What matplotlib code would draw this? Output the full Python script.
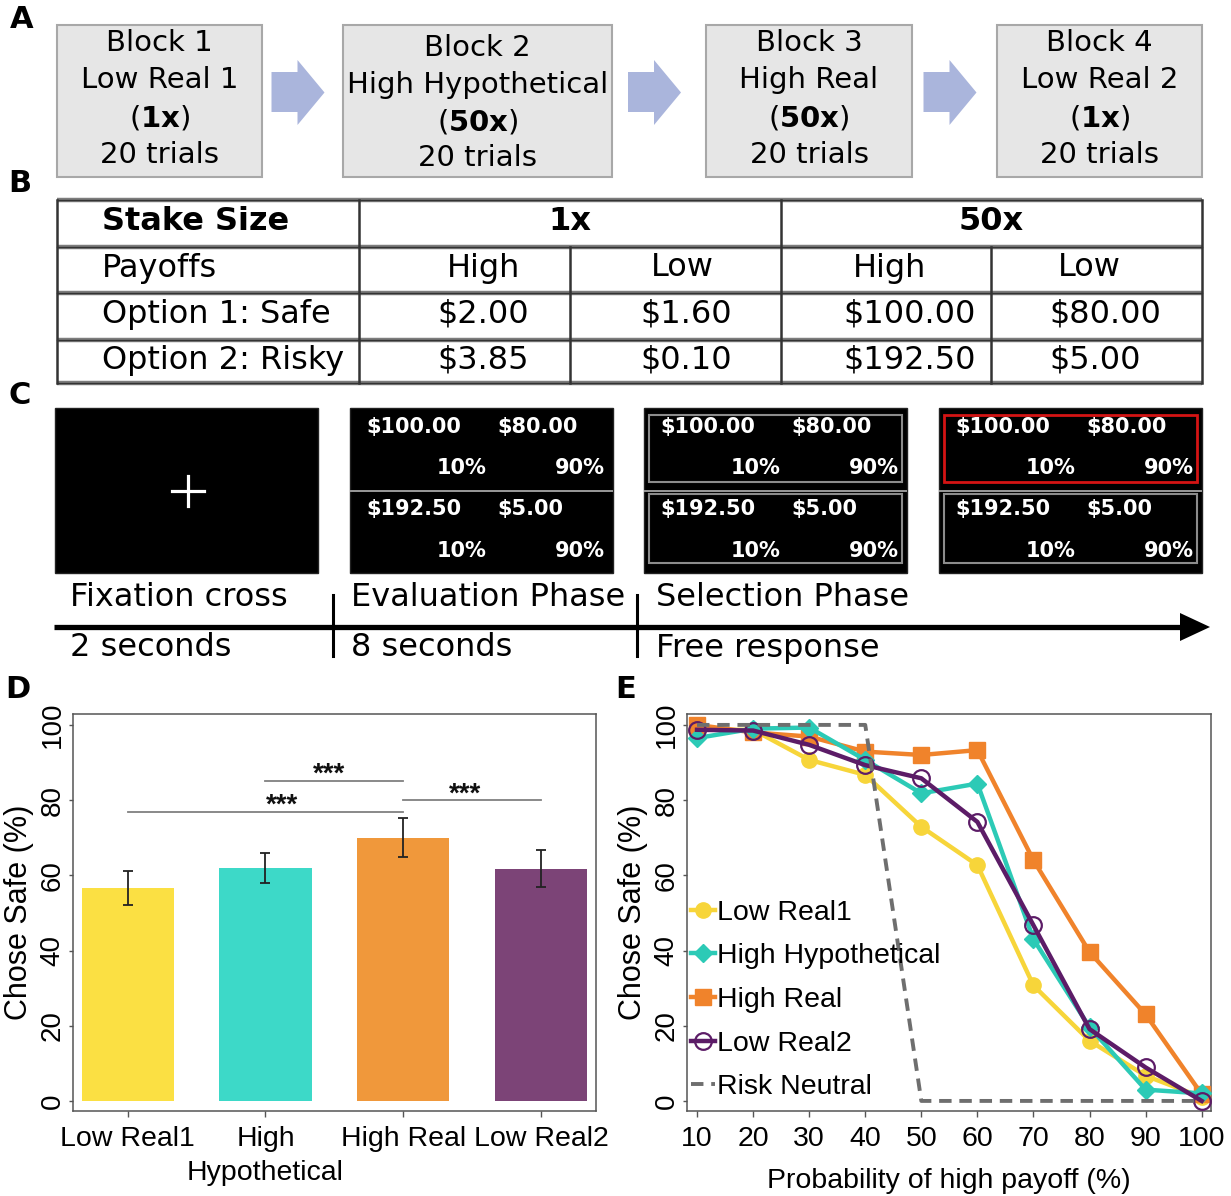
import matplotlib
matplotlib.use("Agg")
import matplotlib.pyplot as plt
from matplotlib.patches import Rectangle, Polygon
from matplotlib import font_manager as fm
import numpy as np

W, H, DPI = 1231, 1196, 100

# ---------------- data ----------------
blocks = ["Block 1", "Block 2", "Block 3", "Block 4"]
block_names = ["Low Real 1", "High Hypothetical", "High Real", "Low Real 2"]
block_stakes = ["1x", "50x", "50x", "1x"]
block_trials = ["20 trials", "20 trials", "20 trials", "20 trials"]

stake_sizes = ["1x", "50x"]
payoff_levels = ["High", "Low", "High", "Low"]
option_labels = ["Option 1: Safe", "Option 2: Risky"]
safe_payoffs = ["$2.00", "$1.60", "$100.00", "$80.00"]
risky_payoffs = ["$3.85", "$0.10", "$192.50", "$5.00"]

screen_safe = ["$100.00", "$80.00"]
screen_risky = ["$192.50", "$5.00"]
screen_probs = ["10%", "90%"]
phase_names = ["Fixation cross", "Evaluation Phase", "Selection Phase"]
phase_durations = ["2 seconds", "8 seconds", "Free response"]

conditions = ["Low Real1", "High\nHypothetical", "High Real", "Low Real2"]
chose_safe_mean = [56.6, 62.0, 70.0, 61.7]
chose_safe_sem = [4.5, 4.0, 5.2, 4.9]
# (first bar, second bar, bracket height, star position)
sig_brackets = [(0, 2, 76.9, 1.12), (1, 2, 85.1, 1.46), (2, 3, 80.0, 2.45)]

prob_high = [10, 20, 30, 40, 50, 60, 70, 80, 90, 100]
low_real1 = [98.7, 98.7, 90.7, 86.7, 72.9, 62.7, 30.7, 16.0, 6.7, 1.0]
high_hyp = [96.5, 99.0, 99.3, 90.7, 81.8, 84.4, 43.0, 19.6, 3.0, 2.0]
high_real = [100.0, 98.0, 96.9, 92.9, 92.0, 93.3, 64.0, 39.6, 23.0, 1.8]
low_real2 = [98.7, 98.5, 94.7, 89.3, 85.8, 74.2, 46.7, 19.1, 8.9, 0.0]
risk_neutral = [100, 100, 100, 100, 0, 0, 0, 0, 0, 0]

# ---------------- styles ----------------
bar_colors = ["#FBE043", "#3DD9C8", "#F0983B", "#7C4477"]
line_colors = ["#F7D53A", "#2CCAB6", "#F0832B", "#5C1C67"]

names = {f.name for f in fm.fontManager.ttflist}
if "Liberation Sans Narrow" in names:
    NARROW, NSCALE = "Liberation Sans Narrow", 1.0
else:
    NARROW, NSCALE = "Liberation Sans", 0.82
REG = "Liberation Sans"
NFS = 25 * NSCALE

plt.rcParams["font.family"] = ["DejaVu Sans"]
plt.rcParams["mathtext.fontset"] = "dejavusans"

fig = plt.figure(figsize=(W / DPI, H / DPI), dpi=DPI)

# pixel-space canvas for the schematic panels
ov = fig.add_axes([0, 0, 1, 1])
ov.set_xlim(0, W)
ov.set_ylim(H, 0)
ov.axis("off")

for lab, (x, y) in zip("ABCDE", [(22, 20), (20, 183), (20, 396), (18, 690), (626, 690)]):
    ov.text(x, y, lab, fontsize=22, fontweight="bold", ha="center", va="center")

# ---- A: block sequence ----
box_left = [57, 343, 706, 997]
box_right = [262, 612, 912, 1202]
for i in range(4):
    l, r = box_left[i], box_right[i]
    ov.add_patch(Rectangle((l, 25), r - l, 152, fc="#e6e6e6", ec="#a8a8a8", lw=1.5))
    ys = [48, 85, 122, 158] if i == 1 else [43, 80, 118, 155]
    lines = [blocks[i], block_names[i], r"($\mathbf{%s}$)" % block_stakes[i], block_trials[i]]
    for t, y in zip(lines, ys):
        ov.text((l + r) / 2, y, t, fontsize=21, ha="center", va="center")
for i in range(3):
    c = (box_right[i] + box_left[i + 1]) / 2 - 5
    ov.add_patch(Polygon([(c - 26, 72), (c, 72), (c, 60), (c + 27, 92.5), (c, 125),
                          (c, 112), (c - 26, 112)], closed=True, fc="#aab5dc", ec="none"))

# ---- B: payoff table ----
col_x = [57, 359, 570, 781, 991, 1202]
row_y = [200, 247, 293, 340, 383]
for y in row_y:
    ov.plot([col_x[0], col_x[-1]], [y, y], color="#7d7d7d", lw=3.2, solid_capstyle="butt")
    ov.plot([col_x[0], col_x[-1]], [y, y], color="#333333", lw=1.0)
for x in [col_x[0], col_x[1], col_x[3], col_x[5]]:
    ov.plot([x, x], [row_y[0], row_y[-1]], color="#333333", lw=1.8)
for x in [col_x[2], col_x[4]]:
    ov.plot([x, x], [row_y[1], row_y[-1]], color="#333333", lw=1.8)
row_c = [222, 268, 314, 360]
ov.text(102, row_c[0], "Stake Size", fontsize=23, fontweight="bold", ha="left", va="center")
ov.text((col_x[1] + col_x[3]) / 2, row_c[0], stake_sizes[0], fontsize=23, fontweight="bold",
        ha="center", va="center")
ov.text((col_x[3] + col_x[5]) / 2, row_c[0], stake_sizes[1], fontsize=23, fontweight="bold",
        ha="center", va="center")
ov.text(102, row_c[1], "Payoffs", fontsize=23, ha="left", va="center")
head_x = [484, 682, 890, 1089]
val_x = [437, 640, 843, 1049]
for hx, t in zip(head_x, payoff_levels):
    ov.text(hx, row_c[1], t, fontsize=23, ha="center", va="center")
ov.text(102, row_c[2], option_labels[0], fontsize=23, ha="left", va="center")
ov.text(102, row_c[3], option_labels[1], fontsize=23, ha="left", va="center")
for vx, s, r in zip(val_x, safe_payoffs, risky_payoffs):
    ov.text(vx, row_c[2], s, fontsize=23, ha="left", va="center")
    ov.text(vx, row_c[3], r, fontsize=23, ha="left", va="center")

# ---- C: trial timeline ----
scr_left = [55, 350, 644, 939]
scr_w, scr_top, scr_bot = 263, 408, 573
for i, l in enumerate(scr_left):
    ov.add_patch(Rectangle((l, scr_top), scr_w, scr_bot - scr_top, fc="black", ec="#222", lw=1))
    if i == 0:
        cx, cy = l + 133, 491
        ov.plot([cx - 16, cx + 16], [cy, cy], color="white", lw=2.3)
        ov.plot([cx, cx], [cy - 15, cy + 15], color="white", lw=2.3)
        continue
    ov.plot([l + 1, l + scr_w - 1], [491, 491], color="#9a9a9a", lw=1.4)
    if i >= 2:
        top_col = "#d41414" if i == 3 else "#8c8c8c"
        ov.add_patch(Rectangle((l + 5, 415), scr_w - 10, 67, fill=False, ec=top_col,
                               lw=2.0 if i == 3 else 1.5))
        ov.add_patch(Rectangle((l + 5, 494), scr_w - 10, 69, fill=False, ec="#8c8c8c", lw=1.5))
    for amounts, ya, yp in [(screen_safe, 427, 468), (screen_risky, 509, 551)]:
        ov.text(l + 16, ya, amounts[0], color="white", fontsize=15, fontweight="bold",
                ha="left", va="center")
        ov.text(l + 147, ya, amounts[1], color="white", fontsize=15, fontweight="bold",
                ha="left", va="center")
        ov.text(l + 137, yp, screen_probs[0], color="white", fontsize=15, fontweight="bold",
                ha="right", va="center")
        ov.text(l + 255, yp, screen_probs[1], color="white", fontsize=15, fontweight="bold",
                ha="right", va="center")

ov.plot([54, 1185], [627, 627], color="black", lw=3.8, solid_capstyle="butt")
ov.add_patch(Polygon([(1180, 613), (1210, 627), (1180, 641)], closed=True, fc="black", ec="none"))
for x in [333, 637]:
    ov.plot([x, x], [595, 656], color="black", lw=2.2)
for x, n, d in zip([70, 351, 656], phase_names, phase_durations):
    ov.text(x, 598, n, fontsize=23, ha="left", va="center")
    ov.text(x, 648, d, fontsize=23, ha="left", va="center")

# ---------------- D: bar chart ----------------
ax_b, ax_h = 1 - 1110.7 / H, (1110.7 - 714) / H
axD = fig.add_axes([72.7 / W, ax_b, (596 - 72.7) / W, ax_h])
axE = fig.add_axes([686.7 / W, ax_b, (1211 - 686.7) / W, ax_h])

xD = np.arange(len(conditions))
axD.bar(xD, chose_safe_mean, width=0.67, color=bar_colors, zorder=2)
axD.errorbar(xD, chose_safe_mean, yerr=chose_safe_sem, fmt="none", ecolor="#222222",
             elinewidth=1.3, capsize=3.5, capthick=1.3, zorder=3)
for a, b, y, sx in sig_brackets:
    axD.plot([a, b], [y, y], color="#808080", lw=1.3, zorder=3)
    axD.text(sx, y - 0.3, "***", family=REG, fontsize=20, fontweight="bold",
             ha="center", va="baseline", color="#111111")
axD.set_xlim(-0.4, 3.4)
axD.set_ylim(-2.6, 102.9)
axD.set_xticks(xD)
axD.set_xticklabels(conditions, family=NARROW, fontsize=NFS, linespacing=1.38)

# ---------------- E: choice curves ----------------
series = [
    (low_real1, "Low Real1", "o", dict(ms=11)),
    (high_real, "High Real", "s", dict(ms=11)),
    (high_hyp, "High Hypothetical", "D", dict(ms=9.5)),
    (low_real2, "Low Real2", "o", dict(ms=12, mfc="none", mew=1.6)),
]
color_of = {"Low Real1": line_colors[0], "High Hypothetical": line_colors[1],
            "High Real": line_colors[2], "Low Real2": line_colors[3]}
handles = {}
for vals, name, mk, kw in series:
    h, = axE.plot(prob_high, vals, color=color_of[name], lw=3.2, marker=mk, label=name,
                  zorder=3, **kw)
    handles[name] = h
hr, = axE.plot(prob_high, risk_neutral, color="#6e6e6e", lw=2.8, ls=(0, (3.2, 2.0)),
               label="Risk Neutral", zorder=4)
order = ["Low Real1", "High Hypothetical", "High Real", "Low Real2"]
leg = axE.legend([handles[n] for n in order] + [hr], order + ["Risk Neutral"],
                 loc="upper left", bbox_to_anchor=(0.008, 0.532), frameon=False,
                 borderpad=0, borderaxespad=0, handlelength=0.85, handletextpad=0.05,
                 labelspacing=0.62, prop=dict(family=NARROW, size=NFS))
axE.set_xlim(8.16, 101.66)
axE.set_ylim(-2.6, 102.9)
axE.set_xticks(prob_high)
axE.set_xticklabels([str(v) for v in prob_high], family=NARROW, fontsize=NFS)
axE.set_xlabel("Probability of high payoff (%)", family=NARROW, fontsize=NFS)
axE.xaxis.set_label_coords(0.5, -0.145)

for ax in (axD, axE):
    ax.set_yticks([0, 20, 40, 60, 80, 100])
    ax.set_yticklabels(["0", "20", "40", "60", "80", "100"], family=REG, fontsize=20,
                       rotation=90, va="center")
    ax.set_ylabel("Chose Safe (%)", family=REG, fontsize=22)
    ax.yaxis.set_label_coords(-0.0735, 0.5)
    for s in ax.spines.values():
        s.set_color("#555555")
        s.set_linewidth(1.1)
    ax.tick_params(axis="y", direction="out", length=3.0, width=1.0, color="#555555", pad=2)
    ax.tick_params(axis="x", direction="out", length=4.3, width=1.0, color="#555555", pad=7)

fig.savefig("out.png", dpi=DPI)
